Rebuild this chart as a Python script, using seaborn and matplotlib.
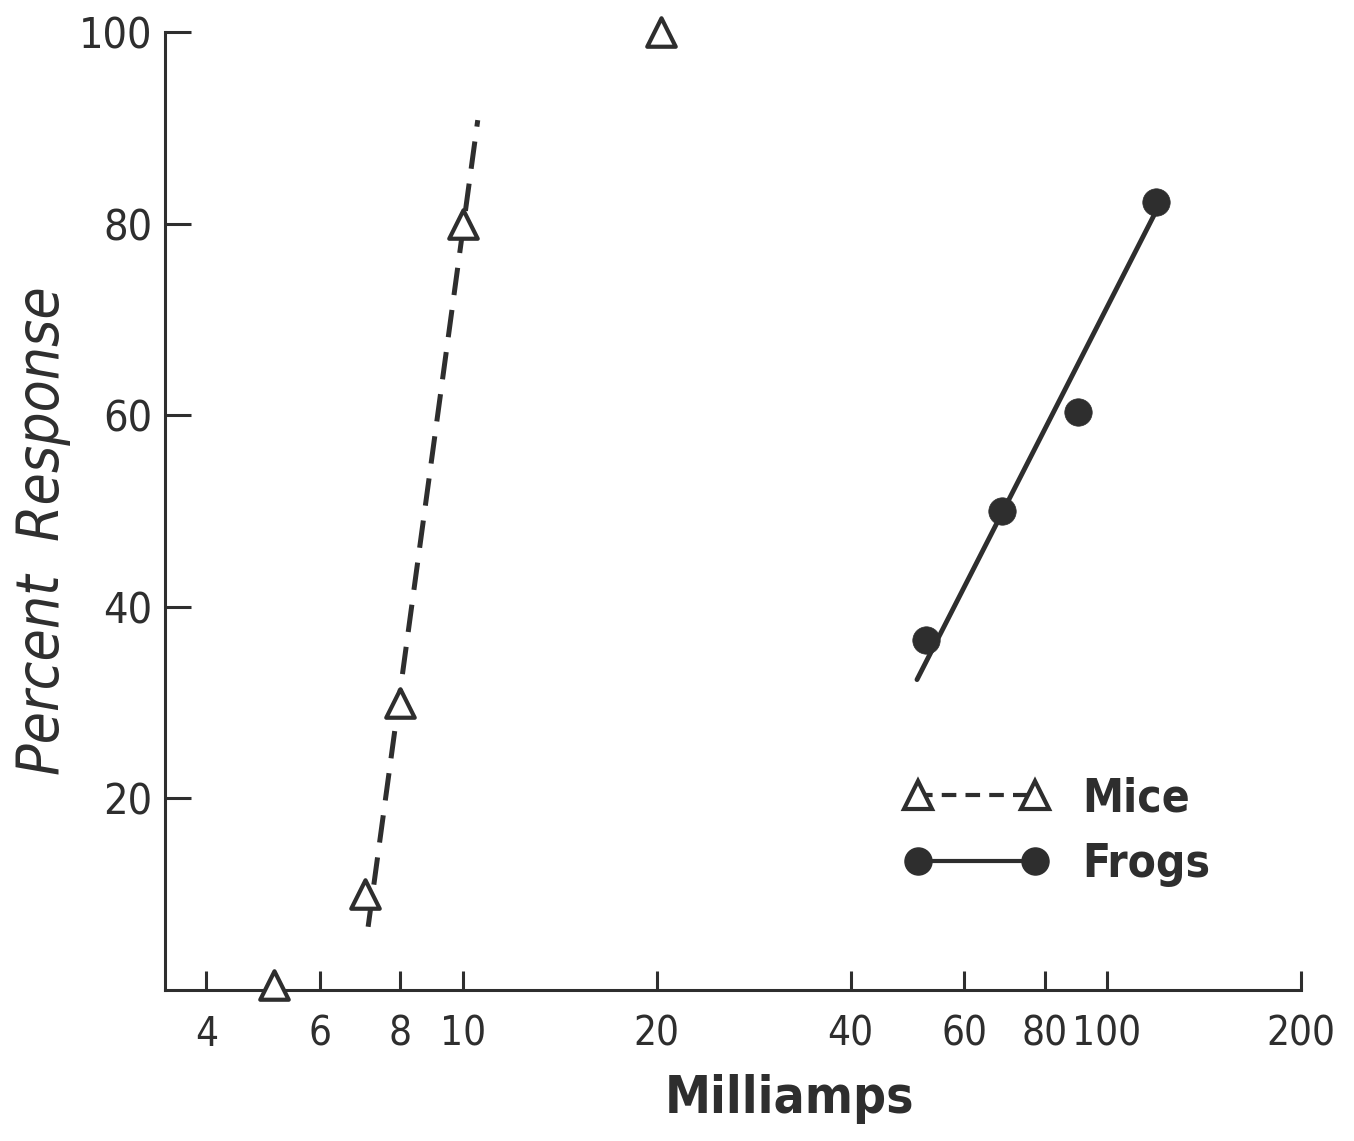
import matplotlib
matplotlib.use("Agg")
import matplotlib.pyplot as plt
from matplotlib.lines import Line2D
import seaborn as sns
import pandas as pd

# ---- data ----
mice_x = [5.1, 7.05, 8.0, 10.0, 20.3]
mice_y = [0.5, 10, 30, 80, 100]
mice_fit_x = [7.13, 10.55]
mice_fit_y = [6.6, 90.8]

frogs_x = [52.4, 68.7, 90.0, 119.0]
frogs_y = [36.5, 50.0, 60.3, 82.3]
frogs_fit_x = [50.7, 120.4]
frogs_fit_y = [32.4, 81.9]

x_ticks = [4, 6, 8, 10, 20, 40, 60, 80, 100, 200]
x_ticklabels = ["4", "6", "8", "10", "20", "40", "60", "80", "100", "200"]
y_ticks = [20, 40, 60, 80, 100]
y_ticklabels = ["20", "40", "60", "80", "100"]

series_labels = ["Mice", "Frogs"]

sns.set_theme(style="ticks")
fam = ["DejaVu Sans", "Liberation Sans"]
plt.rcParams["font.family"] = fam
plt.rcParams["font.stretch"] = "condensed"

INK = "#2e2e2e"

fig = plt.figure(figsize=(13.54, 11.41), dpi=100)
ax = fig.add_axes([165 / 1354, 1 - 990 / 1141, (1301 - 165) / 1354, (990 - 32) / 1141])

mice_fit = pd.DataFrame({"x": mice_fit_x, "y": mice_fit_y})
frogs_fit = pd.DataFrame({"x": frogs_fit_x, "y": frogs_fit_y})
mice = pd.DataFrame({"x": mice_x, "y": mice_y})
frogs = pd.DataFrame({"x": frogs_x, "y": frogs_y})

sns.lineplot(data=mice_fit, x="x", y="y", ax=ax, color=INK, lw=3.6,
             dashes=False, estimator=None, sort=False)
ax.lines[-1].set_dashes([5.5, 3.0])
sns.lineplot(data=frogs_fit, x="x", y="y", ax=ax, color=INK, lw=3.5,
             estimator=None, sort=False)

sns.scatterplot(data=mice, x="x", y="y", ax=ax, marker="^", s=420,
                facecolor="white", edgecolor=INK, linewidth=3.0,
                clip_on=False, zorder=5)
sns.scatterplot(data=frogs, x="x", y="y", ax=ax, marker="o", s=390,
                color=INK, edgecolor=INK, linewidth=0.5,
                clip_on=False, zorder=5)

ax.set_xscale("log")
ax.set_xlim(3.45, 200)
ax.set_ylim(0, 100)
ax.set_xticks(x_ticks)
ax.set_xticklabels(x_ticklabels)
ax.xaxis.set_minor_locator(matplotlib.ticker.NullLocator())
ax.set_yticks(y_ticks)
ax.set_yticklabels(y_ticklabels)

for s in ["top", "right"]:
    ax.spines[s].set_visible(False)
for s in ["left", "bottom"]:
    ax.spines[s].set_linewidth(2.2)
    ax.spines[s].set_color(INK)

ax.tick_params(axis="x", direction="in", length=14, width=2.2, color=INK,
               labelsize=29, labelcolor=INK, pad=18)
ax.tick_params(axis="y", direction="in", length=19, width=2.2, color=INK,
               labelsize=31, labelcolor=INK, pad=9)

ax.set_xlabel("Milliamps", fontsize=37, fontweight="bold", color=INK)
ax.xaxis.set_label_coords(0.55, -0.088)
ax.set_ylabel("Percent  Response", fontsize=42, fontstyle="italic", color=INK)
ax.yaxis.set_label_coords(-0.083, 0.48)

h_mice = Line2D([], [], color=INK, lw=3.0, linestyle=(0, (3.5, 2.2)),
                marker="^", markersize=20, markerfacecolor="white",
                markeredgecolor=INK, markeredgewidth=3.0)
h_frogs = Line2D([], [], color=INK, lw=3.0, linestyle="-",
                 marker="o", markersize=19.5, markerfacecolor=INK,
                 markeredgecolor=INK)
leg = ax.legend([h_mice, h_frogs], series_labels, loc="upper left",
                bbox_to_anchor=(0.6505, 0.223), frameon=False, numpoints=2,
                handlelength=3.15, handletextpad=0.75, borderpad=0,
                borderaxespad=0, labelspacing=0.45,
                prop={"size": 33, "weight": "bold"})
for t in leg.get_texts():
    t.set_color(INK)

fig.savefig("out.png", dpi=100, facecolor="white")
